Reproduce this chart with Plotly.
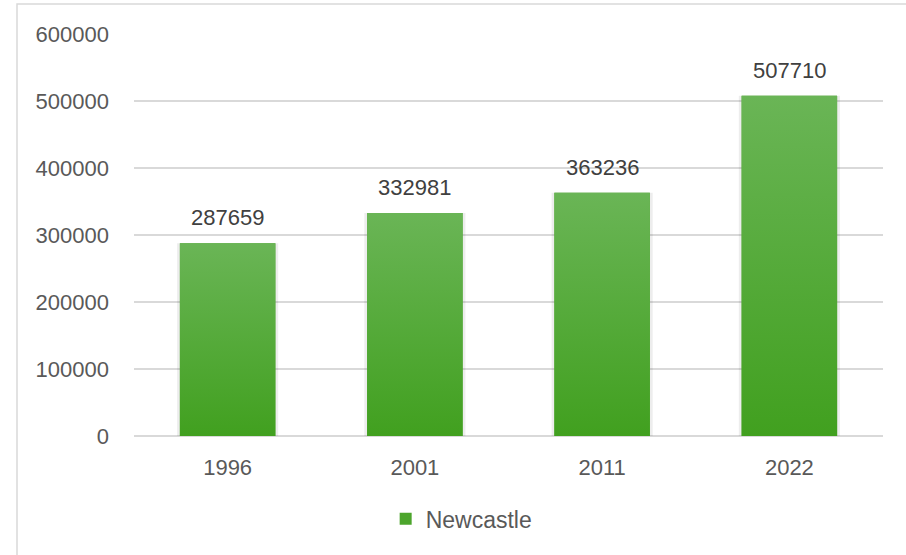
import plotly.graph_objects as go

# Population of Newcastle by census year
years = ["1996", "2001", "2011", "2022"]
population = [287659, 332981, 363236, 507710]
series_name = "Newcastle"

y_ticks = [0, 100000, 200000, 300000, 400000, 500000, 600000]

BAR_HALF = 0.255
GREEN_TOP = "#6ab556"
GREEN_MID = "#4ca52c"
GREEN_BOTTOM = "#41a01f"
GRID = "#d9d9d9"
TICK_COLOR = "#595959"
LABEL_COLOR = "#404040"
FONT = "Liberation Sans, Arial, sans-serif"

xs = list(range(len(years)))

fig = go.Figure()

# Soft shadow behind each bar
fig.add_trace(go.Bar(
    x=xs, y=population, width=2 * BAR_HALF + 0.03,
    marker=dict(color="rgba(0,0,0,0.07)", line=dict(width=0)),
    showlegend=False, hoverinfo="skip",
))

# Base bars (carry the legend entry)
fig.add_trace(go.Bar(
    x=xs, y=population, width=2 * BAR_HALF,
    marker=dict(color=GREEN_MID, line=dict(width=0)),
    name=series_name, showlegend=True,
    customdata=years, hovertemplate="%{customdata}: %{y}<extra></extra>",
))

# Vertical gradient over each bar
for i, v in enumerate(population):
    fig.add_trace(go.Scatter(
        x=[i - BAR_HALF, i + BAR_HALF, i + BAR_HALF, i - BAR_HALF, i - BAR_HALF],
        y=[0, 0, v, v, 0],
        mode="lines", fill="toself",
        line=dict(width=0, color=GREEN_BOTTOM),
        fillgradient=dict(type="vertical",
                          colorscale=[[0, GREEN_BOTTOM], [1, GREEN_TOP]]),
        showlegend=False, hoverinfo="skip",
    ))

# Value labels above bars
for i, v in enumerate(population):
    fig.add_annotation(
        x=i, y=v, text=str(v), showarrow=False,
        yanchor="bottom", yshift=11,
        font=dict(family=FONT, size=22, color=LABEL_COLOR),
    )

# Outer chart frame
fig.add_shape(type="rect", xref="paper", yref="paper",
              x0=-0.1562, x1=1.3, y0=-0.5, y1=1.0746,
              line=dict(color=GRID, width=1.5), fillcolor="rgba(0,0,0,0)",
              layer="below")

fig.update_layout(
    width=906, height=555,
    margin=dict(l=134, r=23, t=34, b=119),
    paper_bgcolor="white", plot_bgcolor="white",
    font=dict(family=FONT, color=TICK_COLOR, size=22),
    barmode="overlay",
    showlegend=True,
    legend=dict(orientation="h", x=0.336, xanchor="left", y=-0.206, yanchor="middle",
                font=dict(size=23, color=TICK_COLOR),
                bgcolor="rgba(0,0,0,0)"),
    xaxis=dict(
        range=[-0.5, len(years) - 0.5],
        tickmode="array", tickvals=xs, ticktext=years,
        showgrid=False, zeroline=False, showline=False,
        ticks="outside", ticklen=12, tickcolor="rgba(0,0,0,0)",
        tickfont=dict(size=22, color=TICK_COLOR),
    ),
    yaxis=dict(
        range=[0, 600000], tickmode="array", tickvals=y_ticks,
        ticktext=[str(t) for t in y_ticks],
        showgrid=True, gridcolor=GRID, gridwidth=1.5,
        zeroline=True, zerolinecolor=GRID, zerolinewidth=1.5,
        showline=False, ticklabelstandoff=24,
        tickfont=dict(size=22, color=TICK_COLOR),
    ),
)

fig.write_html("out.html")
